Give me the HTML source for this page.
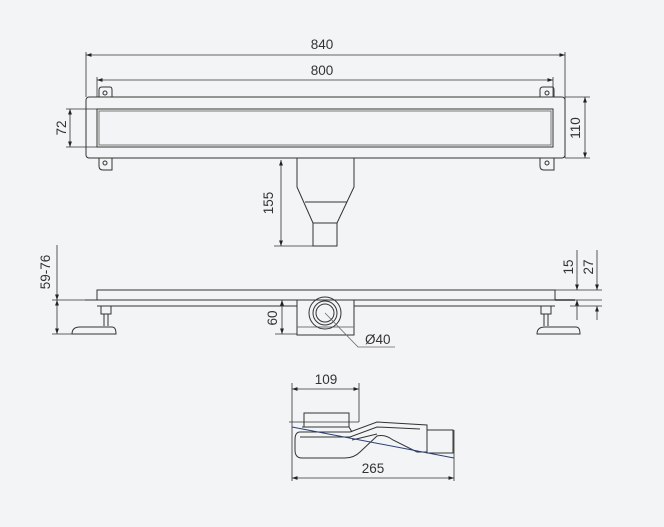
<!DOCTYPE html>
<html><head><style>
html,body{margin:0;padding:0;background:#f3f4f6;}
svg{display:block;}
text{font-family:"Liberation Sans",sans-serif;font-size:13.5px;fill:#333;}
</style></head><body>
<svg width="664" height="527" viewBox="0 0 664 527">
<defs>
<marker id="a" viewBox="0 0 10 10" refX="10" refY="5" markerWidth="7" markerHeight="7" orient="auto-start-reverse"><path d="M0,1.5 L10,5 L0,8.5 Z" fill="#222"/></marker>
</defs>
<g stroke="#333" fill="none" stroke-width="1">
<rect x="86" y="97" width="479" height="61" rx="3"/>
<rect x="97" y="109" width="456" height="38"/>
<rect x="99" y="111" width="452" height="34" stroke="#777"/>
<path d="M99,97 V90 Q99,87 102,87 H110 Q112,87 112,90 V97"/><circle cx="105" cy="93" r="2"/>
<path d="M99,158 V166 Q99,170 103,170 H112 V158"/><circle cx="105" cy="163" r="2"/>
<path d="M540,97 V90 Q540,87 543,87 H552 Q554,87 554,90 V97"/><circle cx="547" cy="93" r="2"/>
<path d="M540,158 V166 Q540,170 544,170 H554 V158"/><circle cx="547" cy="163" r="2"/>
<path d="M297,158 V187 L313,223 V246 H337 V223 L354,187 V158"/>
<path d="M305,202 H347"/><path d="M313,223 H337"/>
<g stroke-width="0.8">
<path d="M86,52 V97 M565,52 V158"/>
<path d="M86,55 H565" marker-start="url(#a)" marker-end="url(#a)"/>
<path d="M97,77 V97 M553,77 V97"/>
<path d="M97,80 H553" marker-start="url(#a)" marker-end="url(#a)"/>
<path d="M66,109 H97 M66,147 H97"/>
<path d="M70,109 V147" marker-start="url(#a)" marker-end="url(#a)"/>
<path d="M565,97 H590 M565,158 H590"/>
<path d="M585,97 V158" marker-start="url(#a)" marker-end="url(#a)"/>
<path d="M281,160 V246" marker-start="url(#a)" marker-end="url(#a)"/>
<path d="M274,246 H313"/>
</g>
<path d="M97,300 V290 H555 V300"/>
<path d="M85,300 H555 M97,306 H297 M354,306 H555" />
<path d="M555,300 H575" stroke-width="1.5"/>
<rect x="101" y="306" width="10" height="8"/><path d="M104,314 V326 M108,314 V326"/>
<path d="M72,334 Q72,327 80,327 H112 Q116,327 116,334 Z"/>
<rect x="541" y="306" width="10" height="8"/><path d="M544,314 V326 M548,314 V326"/>
<path d="M537,334 Q537,327 545,327 H576 Q580,327 580,334 Z"/>
<rect x="297" y="300" width="57" height="35"/>
<path d="M297,327 H354" stroke="#777"/>
<circle cx="325" cy="313" r="16"/><circle cx="325" cy="313" r="12"/><circle cx="325" cy="313" r="9"/>
<g stroke-width="0.8">
<path d="M57,245 V300" marker-end="url(#a)"/>
<path d="M57,300 V334" marker-start="url(#a)" marker-end="url(#a)"/>
<path d="M52,300 H97 M52,334 H74"/>
<path d="M282,300 V334" marker-start="url(#a)" marker-end="url(#a)"/>
<path d="M275,334 H297"/>
<path d="M325,313 L358,347 H395" stroke="#666"/>
<path d="M577,250 V290" marker-end="url(#a)"/>
<path d="M577,320 V300" marker-end="url(#a)"/>
<path d="M597,250 V290" marker-end="url(#a)"/>
<path d="M597,320 V306" marker-end="url(#a)"/>
<path d="M555,290 H602 M575,300 H602 M570,306 H602"/>
</g>
<!-- siphon -->
<rect x="304" y="413" width="45" height="14"/>
<path d="M302,427 H349 L352,432"/>
<path d="M300,432 H350 L377,422 L427,425 V452 L417,452 L393,440 Q385,434 377,436 L360,452 Q354,458 345,458 H302 Q295,458 295,450 V440 Q295,432 300,432 Z"/>
<path d="M300,437 H350 L377,427 L420,429"/>
<path d="M352,440 L377,434"/>
<rect x="427" y="430" width="26" height="23"/>
<path d="M292,427 L454,458" stroke="#2a3f7a"/>
<g stroke-width="0.8">
<path d="M292,383 V481 M359,383 V422 M454,430 V481"/>
<path d="M292,389 H359" marker-start="url(#a)" marker-end="url(#a)"/>
<path d="M292,478 H454" marker-start="url(#a)" marker-end="url(#a)"/>
<path d="M289,422 H359"/>
</g>
</g>
<text x="322" y="49" text-anchor="middle">840</text>
<text x="322" y="75" text-anchor="middle">800</text>
<text transform="translate(66,128) rotate(-90)" text-anchor="middle">72</text>
<text transform="translate(580,128) rotate(-90)" text-anchor="middle">110</text>
<text transform="translate(273,203) rotate(-90)" text-anchor="middle">155</text>
<text transform="translate(50,272) rotate(-90)" text-anchor="middle">59-76</text>
<text transform="translate(277,318) rotate(-90)" text-anchor="middle">60</text>
<text x="365" y="344">Ø40</text>
<text transform="translate(573,267) rotate(-90)" text-anchor="middle">15</text>
<text transform="translate(593,267) rotate(-90)" text-anchor="middle">27</text>
<text x="326" y="384" text-anchor="middle">109</text>
<text x="373" y="473" text-anchor="middle">265</text>
</svg>
</body></html>
